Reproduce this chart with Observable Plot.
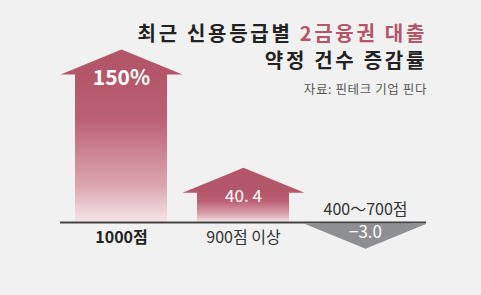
<!DOCTYPE html>
<html><head><meta charset="utf-8">
<script src="https://cdn.jsdelivr.net/npm/d3@7"></script>
<script src="https://cdn.jsdelivr.net/npm/@observablehq/plot@0.6"></script>
<style>
body{margin:0;background:#f1f1f1;font-family:"Noto Sans CJK KR","Noto Sans",sans-serif;}
#wrap{position:relative;width:481px;height:295px;overflow:hidden;background:#f1f1f1;}
.t{position:absolute;right:54px;text-align:right;white-space:nowrap;}
#t1{top:23px;font-size:20px;font-weight:700;color:#222;letter-spacing:2.7px;line-height:20px;height:20px;}
#t1 span{color:#b4566a;}
#t2{top:50px;font-size:20px;font-weight:700;color:#222;letter-spacing:2.7px;line-height:20px;height:20px;}
#src{top:81px;font-size:12.5px;color:#555;letter-spacing:0.6px;line-height:16px;}
#chart{position:absolute;left:0;top:0;}
</style></head>
<body><div id="wrap"><div id="chart"></div>
<div class="t" id="t1">최근 신용등급별 <span>2금융권 대출</span></div>
<div class="t" id="t2">약정 건수 증감률</div>
<div class="t" id="src">자료: 핀테크 기업 핀다</div>
</div>
<script>
const categories = ["1000점", "900점 이상", "400～700점"];
const values = [150, 40.4, -3.0];
const valueLabels = ["150%", "40. 4", "−3.0"];

const data = categories.map((c, i) => ({cat: c, value: values[i], label: valueLabels[i]}));
const up = data.filter(d => d.value >= 0);
const down = data.filter(d => d.value < 0);

const headUp = {draw(ctx) { ctx.moveTo(-61, 0); ctx.lineTo(0, -25); ctx.lineTo(61, 0); ctx.closePath(); }};
const headDown = {draw(ctx) { ctx.moveTo(-61, 0); ctx.lineTo(0, 25); ctx.lineTo(61, 0); ctx.closePath(); }};

const svg = Plot.plot({
  width: 481, height: 295,
  marginLeft: 60, marginRight: 55, marginTop: 0, marginBottom: 0,
  style: {background: "transparent", fontFamily: "'Noto Sans CJK KR', sans-serif"},
  x: {domain: categories, padding: 0, axis: null},
  y: {type: "pow", exponent: 1.22, domain: [0, 150], range: [222, 74], axis: null, clamp: false},
  marks: [
    Plot.barY(up, {x: "cat", y1: 0, y2: "value", insetLeft: 15, insetRight: 15, fill: "url(#redGrad)"}),
    Plot.barY(down, {x: "cat", y1: 0, y2: "value", insetLeft: 15, insetRight: 15, fill: "#8e8f92"}),
    Plot.dot(up, {x: "cat", y: "value", symbol: headUp, fill: "#b4566a", stroke: "none", r: 10}),
    Plot.dot(down, {x: "cat", y: "value", symbol: headDown, fill: "#8e8f92", stroke: "none", r: 10}),
    Plot.ruleY([0], {stroke: "#444", strokeWidth: 2}),
    Plot.text(data.filter(d => d.cat === categories[0]), {x: "cat", y: "value", text: "label", dy: 4, fill: "white", fontSize: 21, fontWeight: 700, letterSpacing: 0.5}),
    Plot.text(data.filter(d => d.cat === categories[1]), {x: "cat", y: "value", text: "label", dy: 4, fill: "white", fontSize: 17, letterSpacing: 0.5}),
    Plot.text(down, {x: "cat", y: "value", text: "label", dy: 9, fill: "white", fontSize: 17, letterSpacing: 0.5}),
    Plot.text(data.filter(d => d.cat === categories[0]), {x: "cat", y: 0, text: "cat", dy: 15, fill: "#222", fontSize: 16, fontWeight: 700, letterSpacing: 0.8}),
    Plot.text(data.filter(d => d.cat === categories[1]), {x: "cat", y: 0, text: "cat", dy: 15, fill: "#333", fontSize: 16, letterSpacing: 0.8}),
    Plot.text(down, {x: "cat", y: 0, text: "cat", dy: -13, fill: "#333", fontSize: 16, letterSpacing: 0.3})
  ]
});
d3.select(svg).insert("defs", ":first-child").html(
  '<linearGradient id="redGrad" x1="0" y1="0" x2="0" y2="1">' +
  '<stop offset="0" stop-color="#b4566a"/><stop offset="0.3" stop-color="#bb6074"/>' +
  '<stop offset="0.75" stop-color="#dba5af"/><stop offset="1" stop-color="#f5e6e9"/></linearGradient>');
document.getElementById("chart").appendChild(svg);
</script>
</body></html>
